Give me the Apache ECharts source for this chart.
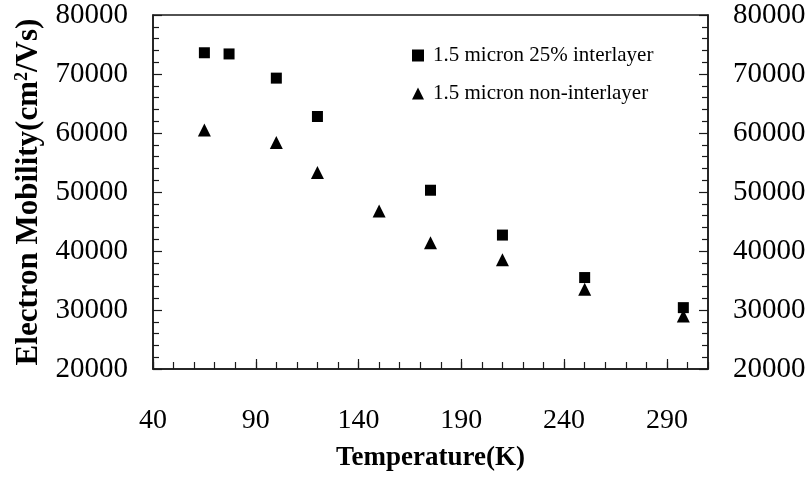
<!DOCTYPE html>
<html>
<head>
<meta charset="utf-8">
<script src="https://cdn.jsdelivr.net/npm/echarts@6/dist/echarts.min.js"></script>
<style>
  html, body { margin: 0; padding: 0; background: #fff; }
  #chart { width: 812px; height: 478px; }
</style>
</head>
<body>
<div id="chart"></div>
<script>
// Temperature (K) and electron mobility (cm^2/Vs) for the two samples
const temperatureInterlayer = [65, 77, 100, 120, 175, 210, 250, 298];
const mobilityInterlayer = [73600, 73400, 69300, 62800, 50300, 42700, 35500, 30400];
const temperatureNonInterlayer = [65, 100, 120, 150, 175, 210, 250, 298];
const mobilityNonInterlayer = [60500, 58400, 53300, 46800, 41400, 38500, 33500, 29000];

const seriesNames = ['1.5 micron 25% interlayer', '1.5 micron non-interlayer'];
const xTickLabels = [40, 90, 140, 190, 240, 290];
const yTickLabels = [20000, 30000, 40000, 50000, 60000, 70000, 80000];

const xMin = 40, xMax = 310, yMin = 20000, yMax = 80000;
const serif = '"Liberation Serif", "DejaVu Serif", serif';
const lineColor = '#1a1a1a';

const pairs = (xs, ys) => xs.map((x, i) => [x, ys[i]]);

const chart = echarts.init(document.getElementById('chart'), null, { renderer: 'canvas' });

const yAxisBase = (position) => ({
  type: 'value',
  position: position,
  min: yMin,
  max: yMax,
  interval: 10000,
  axisLine: { show: true, onZero: false, lineStyle: { color: lineColor, width: 1.5 } },
  axisTick: { show: true, inside: true, length: 9, lineStyle: { color: lineColor, width: 1.2 } },
  minorTick: { show: true, splitNumber: 5, length: 6, lineStyle: { color: lineColor, width: 1.2 } },
  splitLine: { show: false },
  axisLabel: {
    show: true,
    margin: 25,
    fontFamily: serif,
    fontSize: 29,
    color: '#000',
    customValues: yTickLabels,
    formatter: (v) => String(v)
  }
});

chart.setOption({
  animation: false,
  backgroundColor: '#fff',
  grid: {
    left: 153,
    right: 104,
    top: 15,
    bottom: 109,
    show: true,
    borderColor: lineColor,
    borderWidth: 1.5
  },
  legend: {
    orient: 'vertical',
    left: 407,
    top: 40,
    itemGap: 17,
    itemWidth: 12,
    itemHeight: 12,
    textStyle: { fontFamily: serif, fontSize: 21, color: '#000', padding: [0, 0, 0, 4] },
    data: [
      { name: seriesNames[0], icon: 'rect', itemStyle: { color: '#000' } },
      { name: seriesNames[1], icon: 'triangle', itemStyle: { color: '#000' } }
    ]
  },
  xAxis: [
    {
      type: 'value',
      position: 'bottom',
      min: xMin,
      max: xMax,
      interval: 10,
      axisLine: { show: true, onZero: false, lineStyle: { color: lineColor, width: 1.5 } },
      axisTick: { show: true, inside: true, length: 7, lineStyle: { color: lineColor, width: 1.2 } },
      splitLine: { show: false },
      axisLabel: {
        margin: 38,
        fontFamily: serif,
        fontSize: 28,
        color: '#000',
        customValues: xTickLabels
      },
      name: 'Temperature(K)',
      nameLocation: 'middle',
      nameGap: 76,
      nameTextStyle: { fontFamily: serif, fontSize: 27, fontWeight: 'bold', color: '#000' }
    },
    {
      type: 'value',
      position: 'bottom',
      min: xMin,
      max: xMax,
      interval: 10,
      axisLine: { show: false },
      axisTick: { show: true, inside: true, length: 10, customValues: xTickLabels, lineStyle: { color: lineColor, width: 1.2 } },
      axisLabel: { show: false },
      splitLine: { show: false }
    }
  ],
  yAxis: [
    Object.assign(yAxisBase('left'), {
      name: 'Electron Mobility(cm{sup|2}/Vs)',
      nameLocation: 'middle',
      nameRotate: 90,
      nameGap: 104,
      nameTextStyle: {
        fontFamily: serif,
        fontSize: 31,
        fontWeight: 'bold',
        color: '#000',
        rich: {
          sup: { fontFamily: serif, fontSize: 18, fontWeight: 'bold', color: '#000', verticalAlign: 'top', padding: [0, 0, 12, 0] }
        }
      }
    }),
    yAxisBase('right')
  ],
  series: [
    {
      name: seriesNames[0],
      type: 'scatter',
      xAxisIndex: 0,
      yAxisIndex: 0,
      symbol: 'rect',
      symbolSize: 11,
      itemStyle: { color: '#000', opacity: 1 },
      data: pairs(temperatureInterlayer, mobilityInterlayer)
    },
    {
      name: seriesNames[1],
      type: 'scatter',
      xAxisIndex: 0,
      yAxisIndex: 0,
      symbol: 'triangle',
      symbolSize: 13,
      itemStyle: { color: '#000', opacity: 1 },
      data: pairs(temperatureNonInterlayer, mobilityNonInterlayer)
    }
  ]
});
</script>
</body>
</html>
